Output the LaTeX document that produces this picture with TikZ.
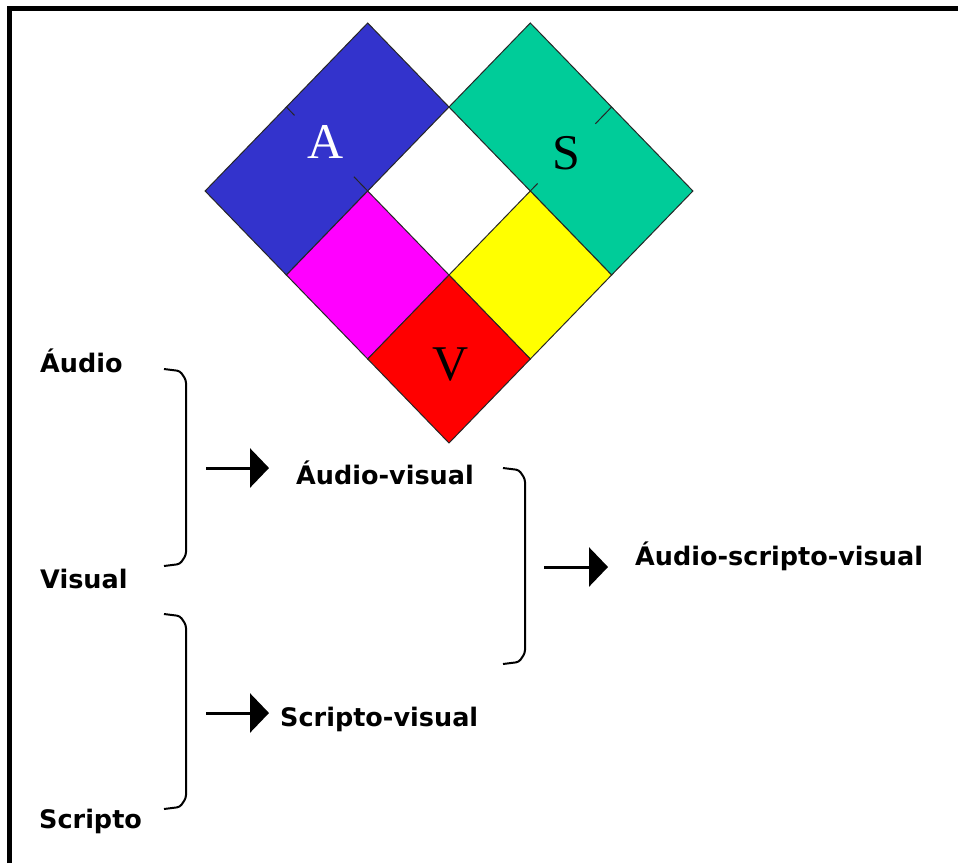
\documentclass[tikz,border=0pt]{standalone}
\usepackage{fontspec}
\setmainfont{Liberation Serif}
\newfontfamily\labfont{DejaVu Sans}
\usetikzlibrary{arrows.meta}
\definecolor{ablue}{HTML}{3333CC}
\definecolor{sgreen}{HTML}{00CC99}
\definecolor{mmag}{HTML}{FF00FF}
\definecolor{myel}{HTML}{FFFF00}
\definecolor{vred}{HTML}{FF0000}
\begin{document}
\begin{tikzpicture}[x=1pt,y=-1pt,
  cell/.style={draw=black!85,line width=1pt,line join=miter},
  stub/.style={draw=black!85,line width=1pt},
  bigletter/.style={inner sep=0pt,anchor=base,font=\fontsize{50}{58}\selectfont},
  lab/.style={inner sep=0pt,anchor=base west,font=\labfont\bfseries\fontsize{25.5}{30}\selectfont},
  brack/.style={draw=black,line width=2pt,line join=round,rounded corners=3pt},
  arr/.style={draw=black,line width=3pt,-{Triangle[length=19pt,width=39pt]}}]
\useasboundingbox (0,0) rectangle (958,863);
% frame
\draw[line width=5pt,line join=miter] (9.5,863) -- (9.5,8.5) -- (958,8.5);
% diamond
\begin{scope}[shift={(449,23)},x={(81.3pt,0pt)},y={(0pt,-84pt)}]
  \fill[white] (0,1) -- (1,2) -- (0,3) -- (-1,2) -- cycle;
  \draw[cell,fill=ablue] (-1,0) -- (0,1) -- (-2,3) -- (-3,2) -- cycle;
  \draw[cell,fill=sgreen] (1,0) -- (3,2) -- (2,3) -- (0,1) -- cycle;
  \draw[cell,fill=mmag] (-1,2) -- (0,3) -- (-1,4) -- (-2,3) -- cycle;
  \draw[cell,fill=myel] (1,2) -- (2,3) -- (1,4) -- (0,3) -- cycle;
  \draw[cell,fill=vred] (0,3) -- (1,4) -- (0,5) -- (-1,4) -- cycle;
  \draw[stub] (-2,1) -- (-1.9,1.1);
  \draw[stub] (-1,2) -- (-1.17,1.83);
  \draw[stub] (2,1) -- (1.8,1.2);
  \draw[stub] (1,2) -- (1.09,1.91);
\end{scope}
\node[bigletter,text=white] (la) at (326,158) {A};
\node[bigletter] (ls) at (566,169) {S};
\node[bigletter] (lv) at (451,380) {V};
% labels
\node[lab] (audio) at (40,372) {Áudio};
\node[lab] (visual) at (40,588) {Visual};
\node[lab] (scripto) at (39,828) {Scripto};
\node[lab] (av) at (296,484) {Áudio-visual};
\node[lab] (sv) at (280,726) {Scripto-visual};
\node[lab] (asv) at (635,565) {Áudio-scripto-visual};
% brackets
\draw[brack] (164,369) -- (180,371) -- (186,380) -- (186,555) -- (180,564) -- (164,566);
\draw[brack] (164,614) -- (180,616) -- (186,625) -- (186,798) -- (180,807) -- (164,809);
\draw[brack] (503,468) -- (519,470) -- (525,479) -- (525,653) -- (519,662) -- (503,664);
% arrows
\coordinate (a1s) at (206,468); \coordinate (a1e) at (269,468);
\coordinate (a2s) at (206,713); \coordinate (a2e) at (269,713);
\coordinate (a3s) at (544,567); \coordinate (a3e) at (608,567);
\draw[arr] (a1s) -- (a1e);
\draw[arr] (a2s) -- (a2e);
\draw[arr] (a3s) -- (a3e);
\end{tikzpicture}
\end{document}
